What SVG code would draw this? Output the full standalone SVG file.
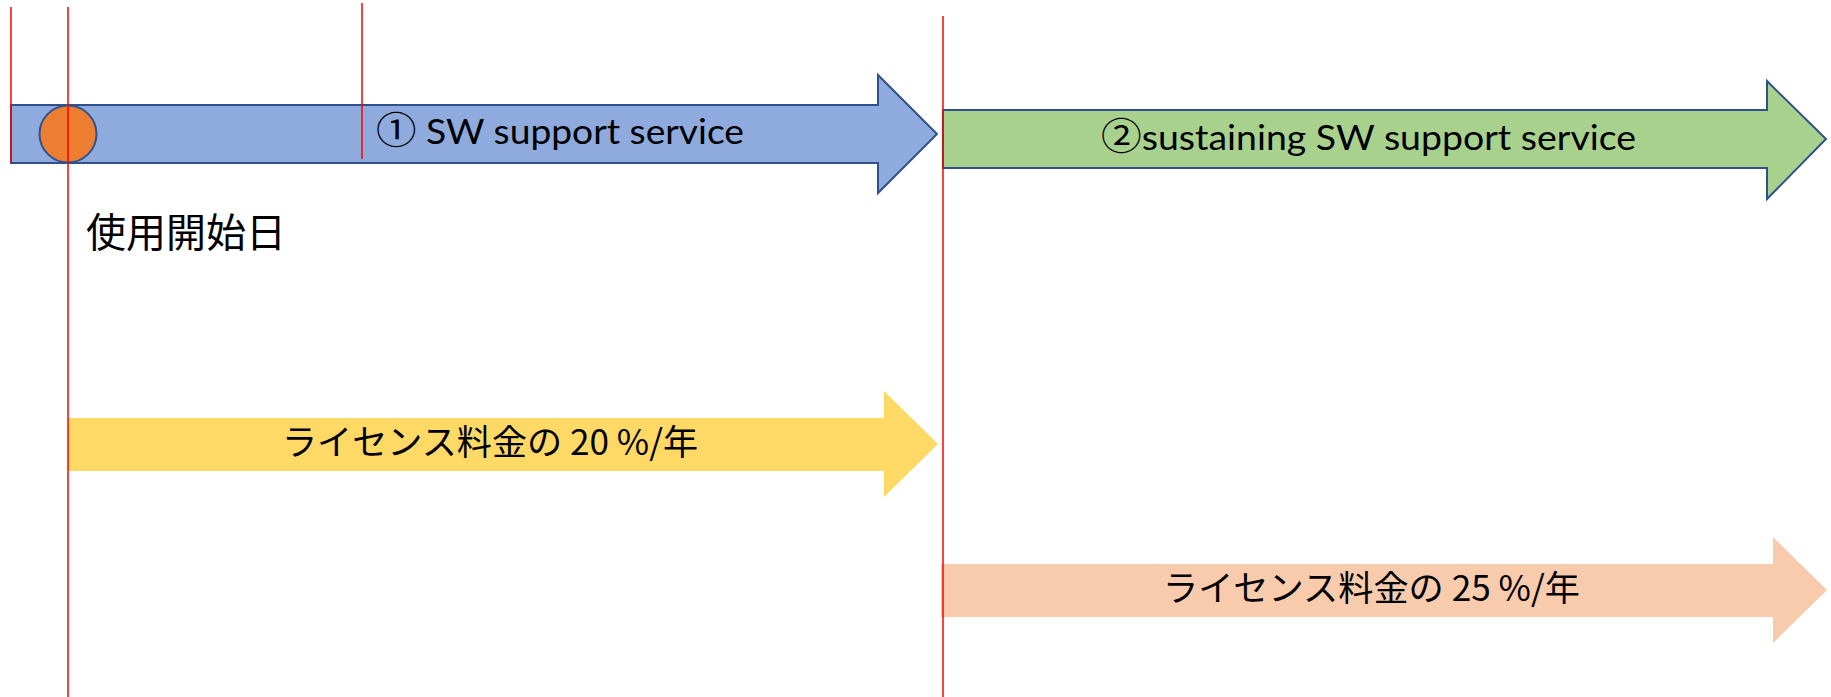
<svg xmlns="http://www.w3.org/2000/svg" width="1831" height="697" viewBox="0 0 1831 697">
<style>
.lbl{font-family:Lato,"Noto Sans","Noto Sans CJK JP",sans-serif;fill:#000}
.jp{font-family:"Noto Sans CJK JP",sans-serif;fill:#000}
.num{font-family:"Noto Sans CJK JP",sans-serif}
.guide{stroke:#FF0000;stroke-width:1.5;fill:none}
.outl{stroke:#2F528F;stroke-width:2}
</style>
<rect width="1831" height="697" fill="#FFFFFF"/>
<g id="node-sw-support">
<polygon class="outl" fill="#8FAADC" points="11,105 878,105 878,75 937,134 878,193 878,163 11,163"/>
<text class="lbl" x="376" y="144" font-size="34" textLength="368" lengthAdjust="spacingAndGlyphs"><tspan class="num" font-size="37">①</tspan> SW support service</text>
</g>
<g id="node-start">
<circle class="outl" cx="68" cy="134" r="28.5" fill="#ED7D31"/>
<text class="jp" x="86" y="247" font-size="40">使用開始日</text>
</g>
<g id="node-sustaining">
<polygon class="outl" fill="#A9D18E" points="943,110 1767,110 1767,81 1826,139 1767,199 1767,168 943,168"/>
<text class="lbl" x="1101" y="150" font-size="34" textLength="535" lengthAdjust="spacingAndGlyphs"><tspan class="num" font-size="37">②</tspan>sustaining SW support service</text>
</g>
<g id="node-fee20">
<polygon fill="#FFD966" points="68,418 884,418 884,391 938,444 884,497 884,471 68,471"/>
<text class="jp" x="282" y="455" font-size="35" textLength="416" lengthAdjust="spacingAndGlyphs">ライセンス料金の 20 %/年</text>
</g>
<g id="node-fee25">
<polygon fill="#F8CBAD" points="941,564 1773,564 1773,537 1827,590 1773,643 1773,617 941,617"/>
<text class="jp" x="1163" y="601" font-size="35" textLength="417" lengthAdjust="spacingAndGlyphs">ライセンス料金の 25 %/年</text>
</g>
<g id="connectors">
<line class="guide" x1="11" y1="7" x2="11" y2="163"/>
<line class="guide" x1="68" y1="7" x2="68" y2="697"/>
<line class="guide" x1="362" y1="3" x2="362" y2="159"/>
<line class="guide" x1="943" y1="16" x2="943" y2="697"/>
</g>
</svg>
